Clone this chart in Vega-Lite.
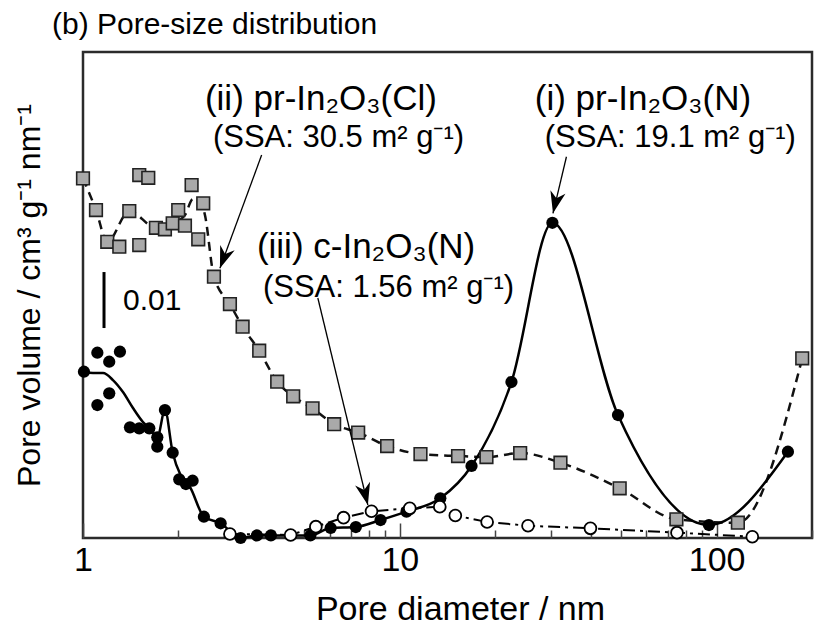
{
  "$schema": "https://vega.github.io/schema/vega-lite/v6.json",
  "width": 729,
  "height": 486,
  "autosize": {"type": "none"},
  "padding": {"left": 83, "top": 52, "right": 2, "bottom": 94},
  "config": {
    "font": "Liberation Sans",
    "view": {"stroke": "#2b2b2b", "strokeWidth": 2.5}
  },
  "title": {
    "text": "(b) Pore-size distribution",
    "anchor": "start",
    "frame": "group",
    "fontSize": 30,
    "fontWeight": "normal",
    "color": "#000000",
    "dx": -31,
    "offset": -12,
    "baseline": "alphabetic"
  },
  "datasets": {
    "ii": [
      {"d": 1.000, "v": 0.06423}, {"d": 1.099, "v": 0.05857}, {"d": 1.193, "v": 0.05291},
      {"d": 1.302, "v": 0.05202}, {"d": 1.400, "v": 0.05839}, {"d": 1.505, "v": 0.06482},
      {"d": 1.607, "v": 0.06434}, {"d": 1.505, "v": 0.05232}, {"d": 1.699, "v": 0.05541},
      {"d": 1.814, "v": 0.05513}, {"d": 1.919, "v": 0.05620}, {"d": 1.998, "v": 0.05857},
      {"d": 2.098, "v": 0.05577}, {"d": 2.202, "v": 0.06304}, {"d": 2.311, "v": 0.05334},
      {"d": 2.396, "v": 0.05977}, {"d": 2.590, "v": 0.04666}, {"d": 2.909, "v": 0.04179},
      {"d": 3.190, "v": 0.03773}, {"d": 3.599, "v": 0.03345}, {"d": 4.102, "v": 0.02791},
      {"d": 4.607, "v": 0.02530}, {"d": 5.304, "v": 0.02316}, {"d": 6.205, "v": 0.02032},
      {"d": 7.388, "v": 0.01884}, {"d": 9.120, "v": 0.01643}, {"d": 11.62, "v": 0.01500},
      {"d": 15.27, "v": 0.01464}, {"d": 18.77, "v": 0.01446}, {"d": 23.98, "v": 0.01518},
      {"d": 32.14, "v": 0.01345}, {"d": 49.43, "v": 0.00888}, {"d": 74.65, "v": 0.00334},
      {"d": 116.7, "v": 0.00273}, {"d": 186.3, "v": 0.03209}
    ],
    "iiCurve": [
      {"d": 1.000, "v": 0.06423}, {"d": 1.099, "v": 0.05857}, {"d": 1.193, "v": 0.05291},
      {"d": 1.400, "v": 0.05839}, {"d": 1.699, "v": 0.05541}, {"d": 1.919, "v": 0.05620},
      {"d": 2.098, "v": 0.05768}, {"d": 2.223, "v": 0.06054}, {"d": 2.339, "v": 0.06036},
      {"d": 2.426, "v": 0.05768}, {"d": 2.590, "v": 0.04666}, {"d": 2.909, "v": 0.04179},
      {"d": 3.190, "v": 0.03773}, {"d": 3.599, "v": 0.03345}, {"d": 4.102, "v": 0.02791},
      {"d": 4.607, "v": 0.02530}, {"d": 5.304, "v": 0.02316}, {"d": 6.205, "v": 0.02032},
      {"d": 7.388, "v": 0.01884}, {"d": 9.120, "v": 0.01643}, {"d": 11.62, "v": 0.01500},
      {"d": 15.27, "v": 0.01464}, {"d": 18.77, "v": 0.01446}, {"d": 23.98, "v": 0.01518},
      {"d": 32.14, "v": 0.01345}, {"d": 49.43, "v": 0.00888}, {"d": 74.65, "v": 0.00334},
      {"d": 116.7, "v": 0.00273}, {"d": 186.3, "v": 0.03209}
    ],
    "i": [
      {"d": 1.007, "v": 0.02970}, {"d": 1.110, "v": 0.03309}, {"d": 1.210, "v": 0.03148},
      {"d": 1.308, "v": 0.03327}, {"d": 1.110, "v": 0.02375}, {"d": 1.210, "v": 0.02584},
      {"d": 1.407, "v": 0.01977}, {"d": 1.505, "v": 0.01959}, {"d": 1.619, "v": 0.01959},
      {"d": 1.716, "v": 0.01798}, {"d": 1.716, "v": 0.01630}, {"d": 1.814, "v": 0.02286},
      {"d": 1.919, "v": 0.01523}, {"d": 2.013, "v": 0.01048}, {"d": 2.113, "v": 0.00964},
      {"d": 2.218, "v": 0.01023}, {"d": 2.408, "v": 0.00380}, {"d": 2.719, "v": 0.00263},
      {"d": 3.144, "v": 0.00000}, {"d": 3.539, "v": 0.00045}, {"d": 3.918, "v": 0.00045},
      {"d": 5.220, "v": 0.00045}, {"d": 6.049, "v": 0.00179}, {"d": 7.264, "v": 0.00196},
      {"d": 8.693, "v": 0.00321}, {"d": 10.50, "v": 0.00470}, {"d": 13.42, "v": 0.00709},
      {"d": 16.84, "v": 0.01286}, {"d": 22.51, "v": 0.02786}, {"d": 30.31, "v": 0.05630},
      {"d": 48.83, "v": 0.02196}, {"d": 94.57, "v": 0.00232}, {"d": 167.9, "v": 0.01541}
    ],
    "iCurve": [
      {"d": 1.007, "v": 0.02964}, {"d": 1.075, "v": 0.02946}, {"d": 1.157, "v": 0.02946},
      {"d": 1.243, "v": 0.02821}, {"d": 1.337, "v": 0.02607}, {"d": 1.438, "v": 0.02321},
      {"d": 1.546, "v": 0.02071}, {"d": 1.619, "v": 0.01959}, {"d": 1.716, "v": 0.01798},
      {"d": 1.814, "v": 0.02286}, {"d": 1.919, "v": 0.01523}, {"d": 2.038, "v": 0.01107},
      {"d": 2.176, "v": 0.00911}, {"d": 2.408, "v": 0.00380}, {"d": 2.719, "v": 0.00263},
      {"d": 3.144, "v": 0.00000}, {"d": 3.539, "v": 0.00045}, {"d": 3.918, "v": 0.00045},
      {"d": 5.220, "v": 0.00045}, {"d": 6.049, "v": 0.00179}, {"d": 7.264, "v": 0.00196},
      {"d": 8.693, "v": 0.00321}, {"d": 10.50, "v": 0.00470}, {"d": 13.42, "v": 0.00709},
      {"d": 16.84, "v": 0.01286}, {"d": 22.51, "v": 0.02786}, {"d": 30.31, "v": 0.05630},
      {"d": 48.83, "v": 0.02196}, {"d": 94.57, "v": 0.00232}, {"d": 167.9, "v": 0.01541}
    ],
    "iii": [
      {"d": 2.909, "v": 0.00071}, {"d": 4.522, "v": 0.00054}, {"d": 5.433, "v": 0.00202},
      {"d": 6.644, "v": 0.00363}, {"d": 8.140, "v": 0.00477}, {"d": 10.75, "v": 0.00530},
      {"d": 13.37, "v": 0.00559}, {"d": 14.97, "v": 0.00402}, {"d": 18.86, "v": 0.00286},
      {"d": 25.39, "v": 0.00218}, {"d": 39.96, "v": 0.00173}, {"d": 74.97, "v": 0.00095},
      {"d": 129.6, "v": 0.00023}
    ],
    "arrows": [
      {"id": "ii", "d": 3.663, "v": 0.06839, "d2": 2.705, "v2": 0.04816},
      {"id": "i", "d": 33.57, "v": 0.06809, "d2": 30.44, "v2": 0.05798},
      {"id": "iii", "d": 5.511, "v": 0.04286, "d2": 7.929, "v2": 0.00589}
    ],
    "bar": [{"d": 1.165, "v": 0.0475, "v2": 0.0375}],
    "labels": [
      {"kind": "name", "d": 2.426, "v": 0.07643, "t": "(ii) pr-In₂O₃(Cl)"},
      {"kind": "ssa", "d": 2.571, "v": 0.06982, "t": "(SSA: 30.5 m² g⁻¹)"},
      {"kind": "name", "d": 26.66, "v": 0.07643, "t": "(i) pr-In₂O₃(N)"},
      {"kind": "ssa", "d": 28.67, "v": 0.06982, "t": "(SSA: 19.1 m² g⁻¹)"},
      {"kind": "name", "d": 3.539, "v": 0.05000, "t": "(iii) c-In₂O₃(N)"},
      {"kind": "ssa", "d": 3.697, "v": 0.04304, "t": "(SSA: 1.56 m² g⁻¹)"},
      {"kind": "scale", "d": 1.337, "v": 0.04071, "t": "0.01"}
    ]
  },
  "encoding": {
    "x": {
      "field": "d",
      "type": "quantitative",
      "scale": {"type": "log", "domain": [1, 200], "nice": false},
      "axis": {
        "title": "Pore diameter / nm",
        "titleFontSize": 34,
        "titleFontWeight": "normal",
        "titleColor": "#000000",
        "titlePadding": 8,
        "titleX": 377,
        "values": [1, 2, 3, 4, 5, 6, 7, 8, 9, 10, 20, 30, 40, 50, 60, 70, 80, 90, 100, 200],
        "labelExpr": "datum.value == 1 || datum.value == 10 || datum.value == 100 ? format(datum.value, 'd') : ''",
        "labelFontSize": 34,
        "labelColor": "#000000",
        "labelFlush": false,
        "labelOverlap": false,
        "labelPadding": 20,
        "domain": false,
        "grid": false,
        "tickColor": "#444444",
        "tickWidth": 1.5,
        "tickSize": {"condition": {"test": "datum.value == 1 || datum.value == 10 || datum.value == 100", "value": -15}, "value": -8}
      }
    },
    "y": {
      "field": "v",
      "type": "quantitative",
      "scale": {"domain": [0, 0.0868], "nice": false, "zero": false},
      "axis": {
        "title": "Pore volume / cm³ g⁻¹ nm⁻¹",
        "titleFontSize": 32,
        "titleFontWeight": "normal",
        "titleColor": "#000000",
        "titlePadding": 37,
        "ticks": false,
        "labels": false,
        "domain": false,
        "grid": false
      }
    }
  },
  "layer": [
    {
      "data": {"name": "iiCurve"},
      "mark": {"type": "line", "interpolate": "monotone", "color": "#111111", "strokeWidth": 2.5, "strokeDash": [9, 6]}
    },
    {
      "data": {"name": "iCurve"},
      "mark": {"type": "line", "interpolate": "monotone", "color": "#000000", "strokeWidth": 2.5}
    },
    {
      "data": {"name": "iii"},
      "mark": {"type": "line", "color": "#000000", "strokeWidth": 2, "strokeDash": [12, 5, 3, 5]}
    },
    {
      "data": {"name": "i"},
      "mark": {"type": "point", "shape": "circle", "filled": true, "color": "#000000", "size": 150, "opacity": 1}
    },
    {
      "data": {"name": "iii"},
      "mark": {"type": "point", "shape": "circle", "filled": true, "fill": "#ffffff", "stroke": "#000000", "strokeWidth": 1.8, "size": 140, "opacity": 1}
    },
    {
      "data": {"name": "ii"},
      "mark": {"type": "point", "shape": "square", "filled": true, "fill": "#a9a9a9", "stroke": "#222222", "strokeWidth": 1.6, "size": 160, "opacity": 1}
    },
    {
      "data": {"name": "arrows"},
      "mark": {"type": "rule", "color": "#000000", "strokeWidth": 1.3},
      "encoding": {
        "x2": {"field": "d2"},
        "y2": {"field": "v2"}
      }
    },
    {
      "data": {"name": "arrows"},
      "transform": [{"filter": "datum.id == 'ii'"}],
      "mark": {"type": "point", "shape": "M0,0 L-0.7,-2 L0,-1.4 L0.7,-2 Z", "filled": true, "color": "#000000", "size": 484, "angle": 20, "opacity": 1},
      "encoding": {"x": {"field": "d2", "type": "quantitative"}, "y": {"field": "v2", "type": "quantitative"}}
    },
    {
      "data": {"name": "arrows"},
      "transform": [{"filter": "datum.id == 'i'"}],
      "mark": {"type": "point", "shape": "M0,0 L-0.7,-2 L0,-1.4 L0.7,-2 Z", "filled": true, "color": "#000000", "size": 484, "angle": 13, "opacity": 1},
      "encoding": {"x": {"field": "d2", "type": "quantitative"}, "y": {"field": "v2", "type": "quantitative"}}
    },
    {
      "data": {"name": "arrows"},
      "transform": [{"filter": "datum.id == 'iii'"}],
      "mark": {"type": "point", "shape": "M0,0 L-0.7,-2 L0,-1.4 L0.7,-2 Z", "filled": true, "color": "#000000", "size": 484, "angle": -14, "opacity": 1},
      "encoding": {"x": {"field": "d2", "type": "quantitative"}, "y": {"field": "v2", "type": "quantitative"}}
    },
    {
      "data": {"name": "bar"},
      "mark": {"type": "rule", "color": "#000000", "strokeWidth": 3},
      "encoding": {"y2": {"field": "v2"}}
    },
    {
      "data": {"name": "labels"},
      "transform": [{"filter": "datum.kind == 'name'"}],
      "mark": {"type": "text", "align": "left", "baseline": "alphabetic", "fontSize": 35, "color": "#000000"},
      "encoding": {"text": {"field": "t"}}
    },
    {
      "data": {"name": "labels"},
      "transform": [{"filter": "datum.kind == 'ssa'"}],
      "mark": {"type": "text", "align": "left", "baseline": "alphabetic", "fontSize": 31, "color": "#000000"},
      "encoding": {"text": {"field": "t"}}
    },
    {
      "data": {"name": "labels"},
      "transform": [{"filter": "datum.kind == 'scale'"}],
      "mark": {"type": "text", "align": "left", "baseline": "alphabetic", "fontSize": 30, "color": "#000000"},
      "encoding": {"text": {"field": "t"}}
    }
  ]
}
